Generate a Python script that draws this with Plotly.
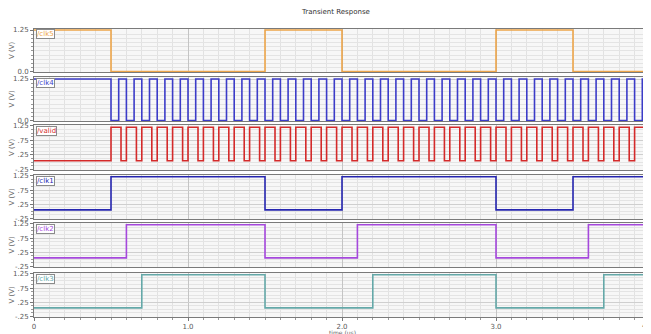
import plotly.graph_objects as go
from plotly.subplots import make_subplots

# page has an 8px body margin, so the figure is drawn 8px smaller and shifted
OFF = 8
W, H = 651 - OFF, 334 - OFF

# ---- data: edge times (us) and level sequences ----
signal_names = ["/clk5", "/clk4", "/valid", "/clk1", "/clk2", "/clk3"]
signal_colors = ["#eda54a", "#3c3cc8", "#d42a2a", "#2626b0", "#a548dc", "#64a8a8"]

clk5_t = [0.0, 0.5, 1.5, 2.0, 3.0, 3.5]
clk5_start = 1.25
clk5_levels = (1.25, 0.0)

clk4_t = [0.0, 0.5, 0.55, 0.6, 0.65, 0.7, 0.75, 0.8, 0.85, 0.9, 0.95, 1.0, 1.05, 1.1, 1.15,
          1.2, 1.25, 1.3, 1.35, 1.4, 1.45, 1.5, 1.55, 1.6, 1.65, 1.7, 1.75, 1.8, 1.85, 1.9,
          1.95, 2.0, 2.05, 2.1, 2.15, 2.2, 2.25, 2.3, 2.35, 2.4, 2.45, 2.5, 2.55, 2.6, 2.65,
          2.7, 2.75, 2.8, 2.85, 2.9, 2.95, 3.0, 3.05, 3.1, 3.15, 3.2, 3.25, 3.3, 3.35, 3.4,
          3.45, 3.5, 3.55, 3.6, 3.65, 3.7, 3.75, 3.8, 3.85, 3.9, 3.95]
clk4_start = 1.25
clk4_levels = (1.25, 0.0)

valid_t = [0.0, 0.5, 0.565, 0.6, 0.665, 0.7, 0.765, 0.8, 0.865, 0.9, 0.965, 1.0, 1.065,
           1.1, 1.165, 1.2, 1.265, 1.3, 1.365, 1.4, 1.465, 1.5, 1.565, 1.6, 1.665, 1.7,
           1.765, 1.8, 1.865, 1.9, 1.965, 2.0, 2.065, 2.1, 2.165, 2.2, 2.265, 2.3, 2.365,
           2.4, 2.465, 2.5, 2.565, 2.6, 2.665, 2.7, 2.765, 2.8, 2.865, 2.9, 2.965, 3.0,
           3.065, 3.1, 3.165, 3.2, 3.265, 3.3, 3.365, 3.4, 3.465, 3.5, 3.565, 3.6, 3.665,
           3.7, 3.765, 3.8, 3.865, 3.9, 3.965]
valid_start = 0.05
valid_levels = (1.2, 0.05)

clk1_t = [0.0, 0.5, 1.5, 2.0, 3.0, 3.5]
clk1_start = 0.05
clk1_levels = (1.22, 0.05)

clk2_t = [0.0, 0.6, 1.5, 2.1, 3.0, 3.6]
clk2_start = 0.05
clk2_levels = (1.22, 0.05)

clk3_t = [0.0, 0.7, 1.5, 2.2, 3.0, 3.7]
clk3_start = 0.05
clk3_levels = (1.22, 0.05)

t_end = 4.0

x_tickvals = [0, 1, 2, 3]
x_ticktext = ["0", "1.0", "2.0", "3.0"]
x_last_label = "4."
x_title = "time (us)"
y_tickvals_a = [0.0, 1.25]
y_ticktext_a = ["0.0", "1.25"]
y_tickvals_b = [-0.25, 0.25, 0.75, 1.25]
y_ticktext_b = ["-.25", ".25", ".75", "1.25"]

# ---- layout geometry (page pixels) ----
panel_px = [(29, 72), (77, 121), (125, 170), (175, 219), (223, 267), (273, 317)]
y_ranges = [[-0.01, 1.28], [-0.01, 1.31], [-0.27, 1.28], [-0.27, 1.28], [-0.27, 1.28], [-0.27, 1.28]]
x_left, x_right = 34, 650


def wave(times, start, levels):
    hi, lo = levels
    xs, ys = [], []
    cur = start
    for i, t in enumerate(times):
        if i == 0:
            cur = start
        else:
            cur = lo if cur == hi else hi
        xs.append(t)
        ys.append(cur)
    xs.append(t_end)
    ys.append(cur)
    return xs, ys


waves = [
    wave(clk5_t, clk5_start, clk5_levels),
    wave(clk4_t, clk4_start, clk4_levels),
    wave(valid_t, valid_start, valid_levels),
    wave(clk1_t, clk1_start, clk1_levels),
    wave(clk2_t, clk2_start, clk2_levels),
    wave(clk3_t, clk3_start, clk3_levels),
]

fig = make_subplots(rows=6, cols=1, shared_xaxes=True, vertical_spacing=0.01)

for i, ((xs, ys), col) in enumerate(zip(waves, signal_colors)):
    fig.add_trace(go.Scatter(x=xs, y=ys, mode="lines", line=dict(color=col, width=1.6, shape="hv"),
                             showlegend=False, hoverinfo="skip"), row=i + 1, col=1)


def px_x(p):
    return (p - OFF) / W


def px_y(p):
    return 1 - (p - OFF) / H


xdom = [px_x(x_left), min(1.0, px_x(x_right))]
axis_font = dict(family="DejaVu Sans", size=7, color="#5a5a5a")
for i in range(6):
    top, bot = panel_px[i]
    ydom = [px_y(bot), px_y(top)]
    n = "" if i == 0 else str(i + 1)
    last = i == 5
    fig.layout["xaxis" + n].update(
        domain=xdom, range=[0, t_end], showgrid=True, gridcolor="#c4c4c4", gridwidth=1,
        tickvals=x_tickvals, ticktext=x_ticktext, showticklabels=last,
        ticks="outside" if last else "", ticklen=3, tickcolor="#777", tickfont=axis_font,
        minor=dict(dtick=0.1, showgrid=True, gridcolor="#e2e2e2", ticks="outside" if last else "",
                   ticklen=2, tickcolor="#999"),
        showline=True, linecolor="#7a7a7a", linewidth=1, mirror=True, zeroline=False,
    )
    if i < 2:
        tv, tt = y_tickvals_a, y_ticktext_a
    else:
        tv, tt = y_tickvals_b, y_ticktext_b
    fig.layout["yaxis" + n].update(
        domain=ydom, range=y_ranges[i], tickvals=tv, ticktext=tt, tickfont=axis_font,
        ticks="outside", ticklen=3, tickcolor="#777", showgrid=True, gridcolor="#cfcfcf",
        minor=dict(dtick=0.125, showgrid=True, gridcolor="#e4e4e4", ticks="outside",
                   ticklen=2, tickcolor="#999"),
        showline=True, linecolor="#7a7a7a", linewidth=1, mirror=True, zeroline=False,
        title=dict(text="V (V)", font=dict(family="DejaVu Sans", size=7, color="#666"), standoff=2),
    )
    # signal name tab
    fig.add_annotation(
        x=px_x(x_left + 2), y=px_y(top + 0.5), xref="paper", yref="paper",
        xanchor="left", yanchor="top", text=signal_names[i], showarrow=False,
        font=dict(family="DejaVu Sans", size=7, color=signal_colors[i]),
        bgcolor="white", bordercolor="#8a8a8a", borderwidth=1, borderpad=0,
    )

# last x tick label at the right edge, as in the reference
fig.add_annotation(x=1.0, xref="paper", y=px_y(326), yref="paper", text=x_last_label,
                   xanchor="right", yanchor="middle", showarrow=False, font=axis_font)
# x axis title, partly below the bottom edge
fig.add_annotation(x=px_x(342), xref="paper", y=px_y(332), yref="paper", text=x_title,
                   xanchor="center", yanchor="middle", showarrow=False,
                   font=dict(family="DejaVu Sans", size=6, color="#666"))

fig.update_layout(
    width=W, height=H, margin=dict(l=0, r=0, t=0, b=0, autoexpand=False),
    paper_bgcolor="white", plot_bgcolor="#f7f7f7",
    title=dict(text="Transient Response", x=px_x(336), xanchor="center", y=px_y(12), yanchor="middle",
               font=dict(family="DejaVu Sans", size=7, color="#333")),
)

fig.write_html("out.html")
